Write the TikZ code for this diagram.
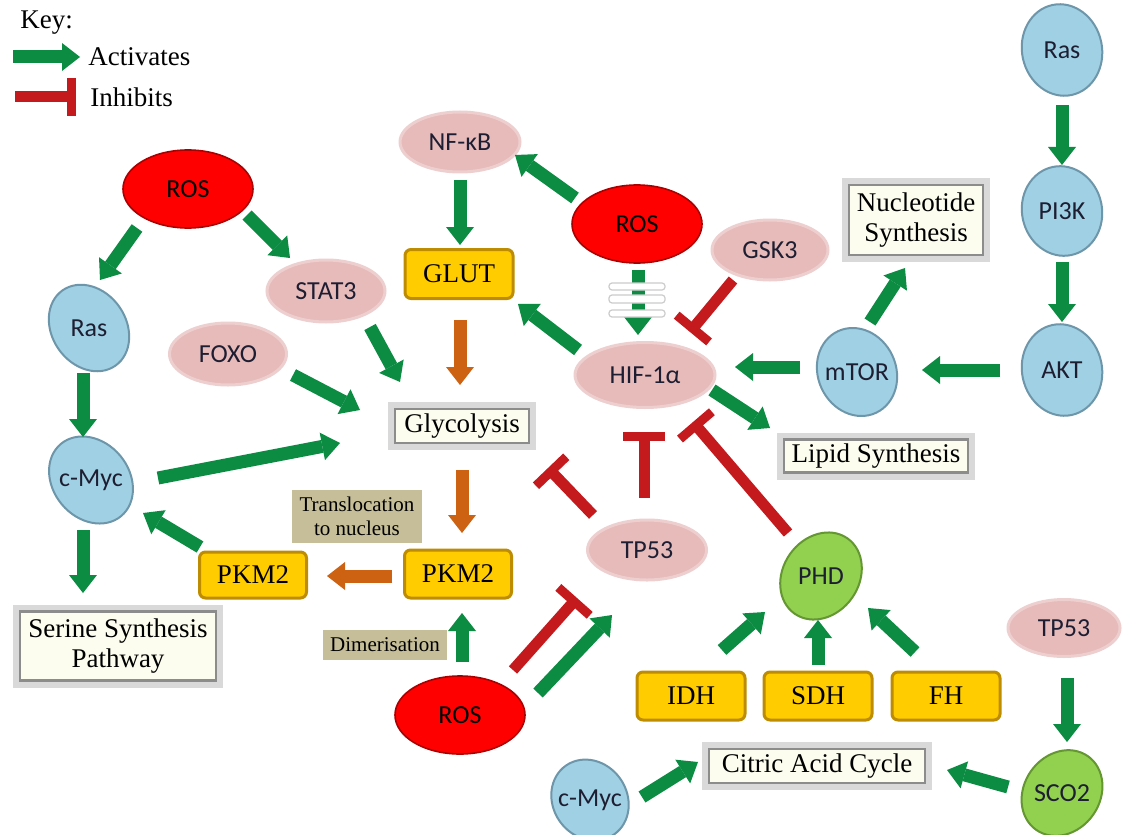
\documentclass[tikz,border=0pt]{standalone}
\usepackage{fontspec}
\setmainfont{Liberation Serif}
\newfontfamily\calfont{Carlito}
\usetikzlibrary{arrows.meta,calc,backgrounds,shapes.geometric}
\definecolor{actg}{RGB}{12,140,66}
\definecolor{inhr}{RGB}{196,26,30}
\definecolor{orng}{RGB}{204,98,18}
\definecolor{pinkc}{RGB}{231,187,186}
\definecolor{bluec}{RGB}{160,208,228}
\definecolor{blued}{RGB}{110,150,170}
\definecolor{redc}{RGB}{255,0,0}
\definecolor{redd}{RGB}{170,0,0}
\definecolor{greenc}{RGB}{146,208,80}
\definecolor{greend}{RGB}{100,150,50}
\definecolor{yelc}{RGB}{255,204,0}
\definecolor{yeld}{RGB}{190,140,0}
\definecolor{ivoryc}{RGB}{252,253,238}
\definecolor{tanc}{RGB}{197,190,152}
\definecolor{txtc}{RGB}{30,30,50}
\tikzset{
  ell/.style={ellipse, inner sep=0pt, font=\calfont\fontsize{13}{15}\selectfont, text=txtc},
  pinkell/.style={ell, fill=pinkc, draw=pinkc!70!white, line width=1.5pt},
  redell/.style={ell, fill=redc, draw=redd, line width=0.8pt, minimum width=65pt, minimum height=39pt, text=black},
  bluefill/.style={fill=bluec, draw=blued, line width=1pt},
  greenfill/.style={fill=greenc, draw=greend, line width=1pt},
  ybox/.style={rectangle, rounded corners=3pt, fill=yelc, draw=yeld, line width=1.5pt, font=\fontsize{13.5}{15}\selectfont, inner sep=0pt},
  wbox/.style={rectangle, fill=ivoryc, draw=black!45, line width=1.2pt, preaction={draw=black!15, line width=7pt}, font=\fontsize{13.5}{15}\selectfont, inner sep=0pt, align=center},
  tbox/.style={rectangle, fill=tanc, inner sep=0pt, font=\fontsize{10.5}{12}\selectfont, align=center},
  keytxt/.style={anchor=west, inner sep=0pt, font=\fontsize{13.5}{15}\selectfont},
  act/.style={draw=actg, line width=6.5pt, -{Triangle[length=9pt,width=14pt,line width=0pt]}},
  oact/.style={act, draw=orng},
  inh/.style={draw=inhr, line width=5.5pt, -{Bar[width=21pt,line width=4.5pt]}},
  stripe/.style={fill=white, draw=black!20, line width=0.6pt, rounded corners=1.5pt},
}
\newcommand\conn[5]{\draw[#1] ($(#2)+(#3)$) -- ($(#4)+(#5)$);}
\newcommand\tiltell[5]{\begin{scope}[on background layer, shift={(#1.center)}, rotate=#4]\path[#5] (0,0) ellipse [x radius=#2, y radius=#3];\end{scope}}
\begin{document}
\begin{tikzpicture}[x=0.5pt,y=-0.5pt]
\useasboundingbox (0,0) rectangle (1122,834);
\begin{scope}[on background layer]\fill[white] (0,0) rectangle (1122,834);\end{scope}

% key
\node[keytxt] (keyt) at (20,23) {Key:};
\node[keytxt] (kact) at (88,57) {Activates};
\node[keytxt] (kinh) at (90,97) {Inhibits};
\coordinate (ka) at (13,57);
\coordinate (ki) at (15,97);
\draw[act, shorten >=4pt] (ka) -- (kact.west);
\draw[inh, -{Bar[width=19pt,line width=4.5pt]}, shorten >=7pt] (ki) -- (kinh.west);

% blue / green ellipses (tilted backgrounds)
\node[ell, minimum width=42.5pt, minimum height=45pt] (ras2) at (1062,50) {Ras};
\tiltell{ras2}{40}{46}{12}{bluefill}
\node[ell, minimum width=42.5pt, minimum height=43.5pt] (pi3k) at (1062,211) {PI3K};
\tiltell{pi3k}{40}{45}{12}{bluefill}
\node[ell, minimum width=42.5pt, minimum height=45pt] (akt) at (1062,370) {AKT};
\tiltell{akt}{40}{46}{12}{bluefill}
\node[ell, minimum width=42.5pt, minimum height=42.5pt] (mtor) at (857,372) {mTOR};
\tiltell{mtor}{39}{45}{25}{bluefill}
\node[ell, minimum width=42.5pt, minimum height=40pt] (rasl) at (89,328) {Ras};
\tiltell{rasl}{37}{46}{35}{bluefill}
\node[ell, minimum width=44pt, minimum height=41pt] (cmycl) at (91,480) {c-Myc};
\tiltell{cmycl}{38}{47}{40}{bluefill}
\node[ell, minimum width=42pt, minimum height=36pt] (cmycb) at (590,800) {c-Myc};
\tiltell{cmycb}{37}{42}{35}{bluefill}
\node[ell, minimum width=43.5pt, minimum height=41pt] (phd) at (821,576) {PHD};
\tiltell{phd}{38}{46}{-35}{greenfill}
\node[ell, minimum width=43.5pt, minimum height=40pt] (sco2) at (1062,793) {SCO2};
\tiltell{sco2}{38}{45}{-35}{greenfill}

% red ellipses
\node[redell] (rosl) at (188,189) {ROS};
\node[redell] (rosc) at (637,224) {ROS};
\node[redell] (rosb) at (460,715) {ROS};

% pink ellipses
\node[pinkell, minimum width=60pt, minimum height=30pt] (nfkb) at (460,142) {NF-κB};
\node[pinkell, minimum width=58pt, minimum height=30pt] (gsk3) at (770,250) {GSK3};
\node[pinkell, minimum width=70pt, minimum height=32.5pt] (hif) at (645,375) {HIF-1α};
\node[pinkell, minimum width=59.5pt, minimum height=30pt] (tp53c) at (647,550) {TP53};
\node[pinkell, minimum width=56pt, minimum height=28.5pt] (tp53r) at (1064,628) {TP53};
\node[pinkell, minimum width=59pt, minimum height=31pt] (stat3) at (326,291) {STAT3};
\node[pinkell, minimum width=58.5pt, minimum height=31pt] (foxo) at (228,354) {FOXO};

% yellow boxes
\node[ybox, minimum width=54pt, minimum height=24.5pt] (glut) at (459,274) {GLUT};
\node[ybox, minimum width=53.5pt, minimum height=24pt] (pkm2c) at (458,574) {PKM2};
\node[ybox, minimum width=53.5pt, minimum height=23pt] (pkm2l) at (253,575) {PKM2};
\node[ybox, minimum width=54pt, minimum height=24pt] (idh) at (691,696) {IDH};
\node[ybox, minimum width=54pt, minimum height=24pt] (sdh) at (818,696) {SDH};
\node[ybox, minimum width=54pt, minimum height=24pt] (fh) at (946,696) {FH};

% white boxes
\node[wbox, minimum width=67pt, minimum height=35pt] (nucl) at (916,220) {Nucleotide\\Synthesis};
\node[wbox, minimum width=67pt, minimum height=17pt] (glyc) at (462,426) {Glycolysis};
\node[wbox, minimum width=92pt, minimum height=16.5pt] (lipid) at (876,456) {Lipid Synthesis};
\node[wbox, minimum width=108pt, minimum height=17pt] (citric) at (817,766) {Citric Acid Cycle};
\node[wbox, minimum width=98pt, minimum height=34.5pt] (serine) at (118,646) {Serine Synthesis\\Pathway};

% tan labels
\node[tbox, minimum width=65pt, minimum height=26.5pt] (transl) at (357,516) {Translocation\\to nucleus};
\node[tbox, minimum width=62pt, minimum height=15pt] (dimer) at (385,645) {Dimerisation};

% connectors
\conn{act}{ras2}{0,55}{pi3k}{0,-46}
\conn{act}{pi3k}{0,51}{akt}{0,-48}
\conn{act}{akt}{-62,0}{mtor}{65,-2}
\conn{act}{mtor}{-57,-5}{hif}{90,-8}
\conn{act}{mtor}{13,-50}{nucl}{-11,48}
\conn{act}{rosc}{-62,-26}{nfkb}{55,13}
\conn{act}{nfkb}{0,38}{glut}{1,-29}
\conn{oact}{glut}{1,46}{glyc}{-2,-41}
\conn{act}{rosc}{1,46}{hif}{-7,-40}
\foreach \a/\b in {59/66, 71/79, 86/93}
  \path[stripe] ($(rosc)+(-28,\a)$) rectangle ($(rosc)+(28,\b)$);
\conn{inh}{gsk3}{-37,30}{hif}{45,-43}
\conn{act}{hif}{-67,-25}{glut}{59,30}
\conn{act}{hif}{67,15}{lipid}{-106,-28}
\conn{inh}{tp53c}{-54,-35}{glyc}{86,42}
\conn{inh}{tp53c}{-3,-52}{hif}{-1,57}
\conn{inh}{phd}{-33,-43}{hif}{48,47}
\conn{act}{idh}{31,-46}{phd}{-56,36}
\conn{act}{sdh}{0,-31}{phd}{-3,44}
\conn{act}{fh}{-31,-44}{phd}{47,32}
\conn{act}{tp53r}{3,50}{sco2}{5,-51}
\conn{act}{sco2}{-54,-6}{citric}{130,4}
\conn{act}{cmycb}{52,-3}{citric}{-119,-4}
\conn{act}{rosb}{2,-53}{pkm2c}{4,39}
\conn{inh}{rosb}{53,-45}{tp53c}{-70,48}
\conn{act}{rosb}{78,-22}{tp53c}{-35,65}
\conn{oact}{glyc}{0,44}{pkm2c}{4,-41}
\conn{oact}{pkm2c}{-66,2}{pkm2l}{74,1}
\conn{act}{pkm2l}{-53,-28}{cmycl}{52,33}
\conn{act}{cmycl}{67,-2}{glyc}{-122,17}
\conn{act}{cmycl}{-8,50}{serine}{-35,-53}
\conn{act}{rasl}{-6,45}{cmycl}{-8,-43}
\conn{act}{rosl}{-51,39}{rasl}{11,-48}
\conn{act}{rosl}{59,26}{stat3}{-36,-33}
\conn{act}{stat3}{44,36}{glyc}{-62,-44}
\conn{act}{foxo}{65,21}{glyc}{-102,-16}
\end{tikzpicture}
\end{document}
